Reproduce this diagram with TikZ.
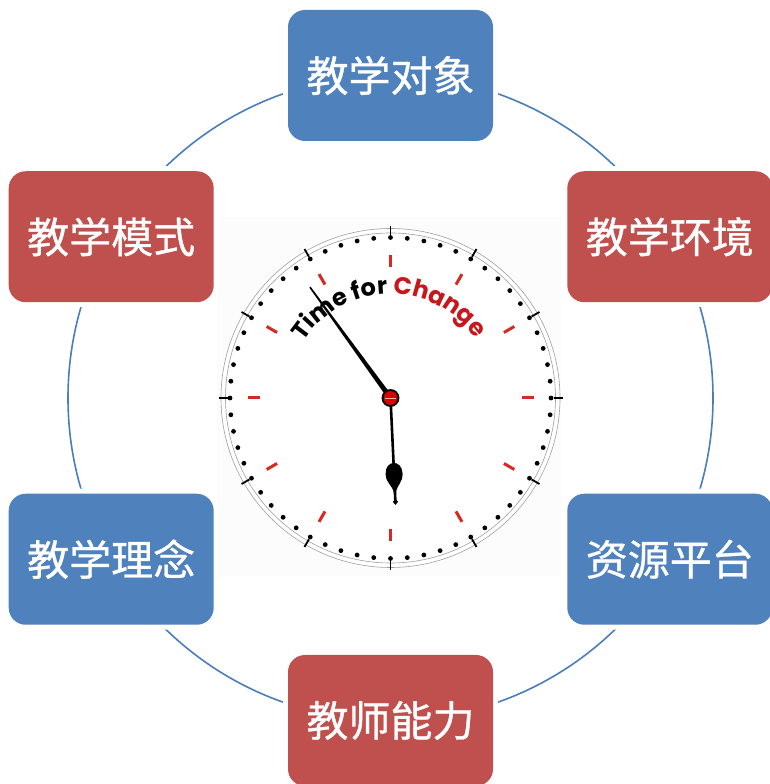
\documentclass[tikz,border=0pt]{standalone}
\usepackage{fontspec}
\newfontfamily\cjk{Noto Sans CJK SC}[FakeBold=0.8]
\newfontfamily\clockfont{Poppins}
\usetikzlibrary{calc,decorations.text}
\definecolor{boxblue}{HTML}{4F81BD}
\definecolor{boxred}{HTML}{C0504D}
\definecolor{ringblue}{HTML}{4A7EBB}
\definecolor{markred}{HTML}{D42A22}
\definecolor{changered}{HTML}{C8171C}
\definecolor{photobg}{RGB}{251,252,251}
\newcommand\clocktext{\clockfont\bfseries\fontsize{24}{24}\selectfont}

\begin{document}
\begin{tikzpicture}[x=1pt,y=1pt,
  box/.style={rounded corners=17pt, minimum width=205pt, minimum height=131pt,
    inner sep=0pt, text=white, font=\cjk\fontsize{42}{42}\selectfont,
    preaction={draw=white, line width=10pt}},
  bluebox/.style={box, fill=boxblue},
  redbox/.style={box, fill=boxred},
  ring/.style={ringblue, line width=1.6pt},
  hourmark/.style={markred, line width=3pt},
  rimtick/.style={black, line width=1.8pt},
  rim/.style={gray!75, line width=0.6pt}]
\useasboundingbox (0,0) rectangle (770,784);
\coordinate (c) at (390.5,386);

% backdrop of the clock
\fill[photobg] (217,207) rectangle (561,567);

% ring through the six boxes
\draw[ring] (c) circle (322.5);

% clock face
\fill[white] (c) circle (170);
\draw[rim] (c) circle (169.5);
\draw[rim] (c) circle (165);
\foreach \a in {0,30,...,330}{
  \draw[rimtick] ($(c)+(\a:163)$) -- ($(c)+(\a:172)$);
  \draw[hourmark] ($(c)+(\a:131)$) -- ($(c)+(\a:143)$);
}
\foreach \i in {0,...,59}
  \fill ($(c)+(\i*6:160.5)$) circle (2.4);

% curved caption
\path[decorate, decoration={text along path, text align=left,
  text={|\clocktext|Time for |\clocktext\color{changered}|Change}}]
  ($(c)+(147:104)$) arc[start angle=147, end angle=10, radius=104];

% minute hand
\begin{scope}[shift={(c)}, rotate=126]
  \fill (-6,-2.6) -- (137,-0.8) -- (137,0.8) -- (-6,2.6) -- cycle;
\end{scope}
% hour hand
\begin{scope}[shift={(c)}, rotate=-87.3]
  \draw[line width=2.6pt] (0,0) -- (104,0);
  \fill (95,1) .. controls (87,2.2) and (85,8.5) .. (76,8.5)
        .. controls (69,8.5) and (65,4.5) .. (65,0)
        .. controls (65,-4.5) and (69,-8.5) .. (76,-8.5)
        .. controls (85,-8.5) and (87,-2.2) .. (95,-1) -- cycle;
  \fill (101,0) -- (104,2.6) -- (107,0) -- (104,-2.6) -- cycle;
\end{scope}
% hub
\filldraw[fill=red!85!black, draw=black, line width=1.8pt] (c) circle (8);
\draw[white!70!red, line width=0.9pt] ($(c)+(-5.5,0)$) -- ($(c)+(5.5,0)$);

% the six topics
\node[bluebox] (obj)  at ($(c)+(90:322.5)$)   {教学对象};
\node[redbox]  (env)  at ($(c)+(30:322.5)$)   {教学环境};
\node[bluebox] (res)  at ($(c)+(-30:322.5)$)  {资源平台};
\node[redbox]  (abi)  at ($(c)+(-90:322.5)$)  {教师能力};
\node[bluebox] (idea) at ($(c)+(-150:322.5)$) {教学理念};
\node[redbox]  (mode) at ($(c)+(150:322.5)$)  {教学模式};
\end{tikzpicture}
\end{document}
